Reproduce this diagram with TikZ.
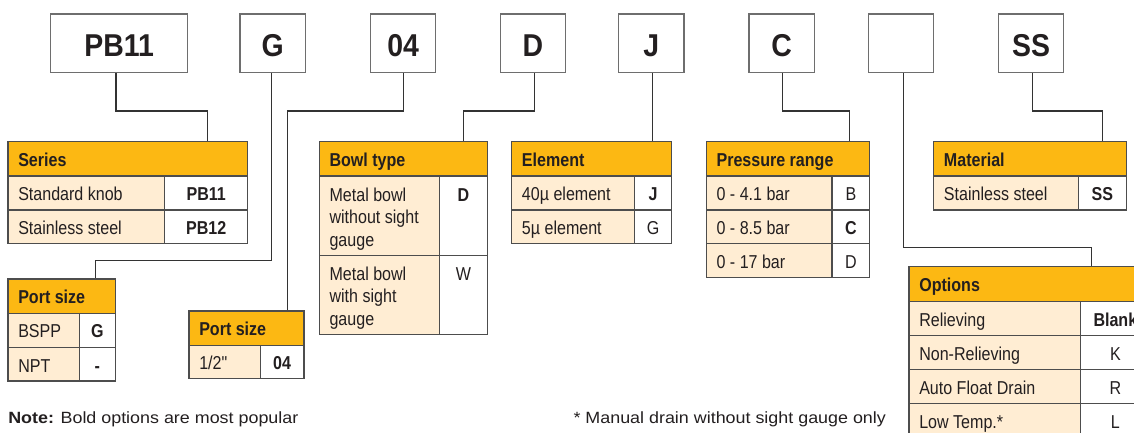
\documentclass[tikz,border=0pt]{standalone}
\usepackage{fontspec}
\setmainfont{Liberation Sans}
\newfontfamily\cond[FakeStretch=0.86]{Liberation Sans}
\newfontfamily\topf[FakeStretch=0.9]{Liberation Sans}
\newfontfamily\notef[FakeStretch=1.1]{Liberation Sans}
\usetikzlibrary{fit,calc}
\definecolor{hdrc}{HTML}{FCB813}
\definecolor{creamc}{HTML}{FFEDD3}
\definecolor{tabc}{HTML}{4D4D4D}
\definecolor{boxc}{HTML}{6E6E6E}
\definecolor{linec}{HTML}{333333}
\definecolor{txtc}{HTML}{231F20}
\tikzset{
 conn/.style={draw=linec, line width=0.8pt},
 topbox/.style={draw=boxc, line width=1pt, inner sep=0pt},
 toptxt/.style={anchor=base, inner sep=0pt, text=txtc, font=\topf\bfseries\fontsize{23.7}{28}\selectfont},
 hdr/.style={draw=tabc, fill=hdrc, line width=0.9pt, inner sep=0pt},
 lcell/.style={draw=tabc, fill=creamc, line width=0.9pt, inner sep=0pt},
 rcell/.style={draw=tabc, fill=white, line width=0.9pt, inner sep=0pt},
 htxt/.style={anchor=base west, inner sep=0pt, text=txtc, font=\cond\bfseries\fontsize{14}{16}\selectfont},
 ltxt/.style={anchor=base west, inner sep=0pt, text=txtc, font=\cond\fontsize{14}{16}\selectfont},
 rtxt/.style={anchor=base, inner sep=0pt, text=txtc, font=\cond\fontsize{14}{16}\selectfont},
 notetxt/.style={anchor=base west, inner sep=0pt, text=txtc, font=\notef\fontsize{12.2}{14}\selectfont},
}
% name, x1, y1, x2, y2, title
\newcommand{\thead}[6]{%
 \node[hdr, fit={(#2,#3)(#4,#5)}] (#1) {};
 \node[htxt] (#1-t) at (#2+10,#3+24.5) {#6};}
% name, x1, y1, xsplit, x2, y2, left, right
\newcommand{\trow}[8]{%
 \node[lcell, fit={(#2,#3)(#4,#6)}] (#1-l) {};
 \node[rcell, fit={(#4,#3)(#5,#6)}] (#1-r) {};
 \node[ltxt] (#1-lt) at (#2+10,#3+24.5) {#7};
 \node[rtxt] (#1-rt) at ({(#4+#5)/2},#3+24.5) {#8};}
\begin{document}
\begin{tikzpicture}[x=0.75pt,y=-0.75pt]
\useasboundingbox (0,0) rectangle (1134,432);
\fill[white] (0,0) rectangle (1134,432);
\clip (0,0) rectangle (1134,432);
% top code boxes
\node[topbox, fit={(50.7,14)(187.7,72.7)}] (pb11) {};
\node[toptxt] (pb11-t) at (119.2,56) {PB11};
\node[topbox, fit={(240,14)(305.3,72.7)}] (g) {};
\node[toptxt] (g-t) at (272.7,56) {G};
\node[topbox, fit={(370.7,14)(435.7,72.7)}] (o4) {};
\node[toptxt] (o4-t) at (403.2,56) {04};
\node[topbox, fit={(500.3,14)(565.7,72.7)}] (d) {};
\node[toptxt] (d-t) at (533,56) {D};
\node[topbox, fit={(618.7,14)(684,72.7)}] (j) {};
\node[toptxt] (j-t) at (651.3,56) {J};
\node[topbox, fit={(749,14)(814.3,72.7)}] (c) {};
\node[toptxt] (c-t) at (781.7,56) {C};
\node[topbox, fit={(868.3,14)(933.3,72.7)}] (blank) {};
\node[topbox, fit={(998.3,14)(1063.7,72.7)}] (ss) {};
\node[toptxt] (ss-t) at (1031,56) {SS};
% Series
\thead{series}{8}{141.7}{247.7}{176}{Series}
\trow{s1}{8}{176}{164.7}{247.7}{210}{Standard knob}{\textbf{PB11}}
\trow{s2}{8}{210}{164.7}{247.7}{243.7}{Stainless steel}{\textbf{PB12}}
% Port size 1
\thead{port1}{8}{279}{115.3}{313.3}{Port size}
\trow{p1a}{8}{313.3}{79.3}{115.3}{347.7}{BSPP}{\textbf{G}}
\trow{p1b}{8}{347.7}{79.3}{115.3}{381}{NPT}{\textbf{-}}
% Port size 2
\thead{port2}{189}{311}{304}{345.3}{Port size}
\trow{p2a}{189}{345.3}{260.3}{304}{378.7}{1/2\textquotedbl}{\textbf{04}}
% Bowl type
\thead{bowl}{319.3}{141.7}{487.7}{176}{Bowl type}
\node[lcell, fit={(319.3,176)(439.3,255.7)}] (b1-l) {};
\node[rcell, fit={(439.3,176)(487.7,255.7)}] (b1-r) {};
\node[ltxt] (b1-t1) at (329.3,201) {Metal bowl};
\node[ltxt] (b1-t2) at (329.3,223.5) {without sight};
\node[ltxt] (b1-t3) at (329.3,246) {gauge};
\node[rtxt] (b1-rt) at (463.5,201) {\textbf{D}};
\node[lcell, fit={(319.3,255.7)(439.3,334.3)}] (b2-l) {};
\node[rcell, fit={(439.3,255.7)(487.7,334.3)}] (b2-r) {};
\node[ltxt] (b2-t1) at (329.3,280) {Metal bowl};
\node[ltxt] (b2-t2) at (329.3,302.5) {with sight};
\node[ltxt] (b2-t3) at (329.3,325) {gauge};
\node[rtxt] (b2-rt) at (463.5,280) {W};
% Element
\thead{element}{511.7}{141.7}{671.7}{176}{Element}
\trow{e1}{511.7}{176}{634.3}{671.7}{210}{40µ element}{\textbf{J}}
\trow{e2}{511.7}{210}{634.3}{671.7}{243.7}{5µ element}{G}
% Pressure range
\thead{press}{706.3}{141.7}{869.7}{176}{Pressure range}
\trow{r1}{706.3}{176}{832}{869.7}{210}{0 - 4.1 bar}{B}
\trow{r2}{706.3}{210}{832}{869.7}{243.7}{0 - 8.5 bar}{\textbf{C}}
\trow{r3}{706.3}{243.7}{832}{869.7}{277.3}{0 - 17 bar}{D}
% Material
\thead{mat}{933.7}{141.7}{1126.3}{176}{Material}
\trow{m1}{933.7}{176}{1078.3}{1126.3}{210}{Stainless steel}{\textbf{SS}}
% Options
\thead{opt}{909}{266.7}{1150}{301.7}{Options}
\trow{o1}{909}{301.7}{1080.7}{1150}{335.7}{Relieving}{\textbf{Blank}}
\trow{o2}{909}{335.7}{1080.7}{1150}{369.7}{Non-Relieving}{K}
\trow{o3}{909}{369.7}{1080.7}{1150}{403.7}{Auto Float Drain}{R}
\trow{o4}{909}{403.7}{1080.7}{1150}{437.7}{Low Temp.*}{L}
% connectors
\draw[conn] ([xshift=-2.4pt]pb11.south) -- ++(0,37.6) -| ($(series.north west)+(200,0)$);
\draw[conn] ([xshift=-0.75pt]g.south) |- ($(port1.north west)+(88,-18)$) -- ($(port1.north west)+(88,0)$);
\draw[conn] (o4.south) -- ++(0,37.6) -| ($(port2.north west)+(99.3,0)$);
\draw[conn] ([xshift=1pt]d.south) -- ++(0,37.6) -| ($(bowl.north west)+(145,0)$);
\draw[conn] ([xshift=1pt]j.south) -- ([xshift=1pt]j.south |- element.north);
\draw[conn] ([xshift=0.75pt]c.south) -- ++(0,37.6) -| ($(press.north west)+(143.7,0)$);
\draw[conn] ([xshift=2pt]blank.south) |- ($(opt.north west)+(182.7,-19)$) -- ($(opt.north west)+(182.7,0)$);
\draw[conn] ([xshift=1pt]ss.south) -- ++(0,37.6) -| ($(mat.north west)+(169.6,0)$);
% notes
\node[notetxt] (note) at (8,423.3) {\textbf{Note:} Bold options are most popular};
\node[notetxt] (foot) at (573.3,423.3) {* Manual drain without sight gauge only};
\end{tikzpicture}
\end{document}
